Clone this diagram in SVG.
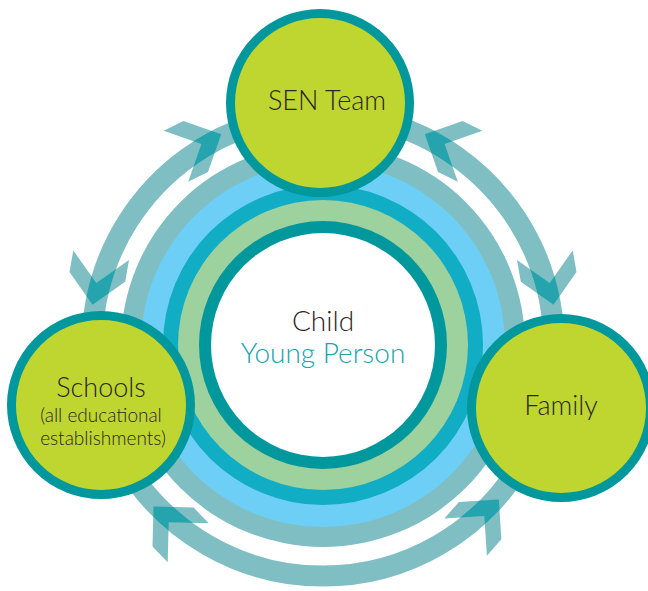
<svg xmlns="http://www.w3.org/2000/svg" xmlns:xlink="http://www.w3.org/1999/xlink" width="648" height="591" viewBox="0 0 648 591">
  <style>
    .node-fill { fill: #BED62F; stroke: #00979D; stroke-width: 9; }
    .label { font-family: Lato, "Open Sans", "Liberation Sans", sans-serif; font-weight: 300; fill: #2A2627; text-anchor: middle; }
    .band { fill: none; stroke: #7FBFC4; stroke-width: 21; }
    .chev { fill: #7FBFC4; }
    .chev-dark { fill: #25A4AE; }
  </style>
  <defs>
    <clipPath id="bandClip">
      <path clip-rule="evenodd" d="M 81.5 345 a 241.5 241.5 0 1 0 483 0 a 241.5 241.5 0 1 0 -483 0 Z M 102.5 345 a 220.5 220.5 0 1 0 441 0 a 220.5 220.5 0 1 0 -441 0 Z"/>
    </clipPath>
    <polygon id="chev1" points="92.5,304.8 125.2,281.8 129.0,260.1 96.3,283.1 73.3,250.4 69.5,272.1"/>
    <polygon id="chev2" points="221.2,134.3 183.4,121.1 163.6,130.7 201.4,143.9 188.2,181.7 208.0,172.1"/>
    <polygon id="chev3" points="424.8,134.3 462.6,121.1 482.4,130.7 444.6,143.9 457.8,181.7 438.0,172.1"/>
    <polygon id="chev4" points="553.5,304.8 520.8,281.8 517.0,260.1 549.7,283.1 572.7,250.4 576.5,272.1"/>
    <polygon id="chev5" points="153.5,506.4 152.5,546.4 167.7,562.3 168.7,522.3 208.7,523.3 193.5,507.4"/>
    <polygon id="chev6" points="498.8,499.4 458.9,502.0 444.4,518.5 484.3,515.9 486.9,555.8 501.4,539.3"/>
  </defs>

  <g id="child-rings">
    <circle cx="323" cy="345" r="202" fill="#7FBFC4"/>
    <circle cx="323" cy="345" r="182" fill="#6DCFF6"/>
    <circle cx="323" cy="345" r="160" fill="#10ADC5"/>
    <circle cx="323" cy="345" r="145" fill="#9DD19E"/>
    <circle cx="323" cy="345" r="124" fill="#00979D"/>
    <circle cx="323" cy="345" r="112" fill="#FFFFFF"/>
  </g>

  <g id="connectors">
    <path class="band" d="M 95.5 385.1 A 231 231 0 0 1 263.2 121.9"/>
    <path class="band" d="M 382.8 121.9 A 231 231 0 0 1 550.5 385.1"/>
    <path class="band" d="M 523.1 460.5 A 231 231 0 0 1 122.9 460.5"/>
    <g class="chev">
      <use xlink:href="#chev1"/>
      <use xlink:href="#chev2"/>
      <use xlink:href="#chev3"/>
      <use xlink:href="#chev4"/>
      <use xlink:href="#chev5"/>
      <use xlink:href="#chev6"/>
    </g>
    <g class="chev-dark" clip-path="url(#bandClip)">
      <use xlink:href="#chev1"/>
      <use xlink:href="#chev2"/>
      <use xlink:href="#chev3"/>
      <use xlink:href="#chev4"/>
      <use xlink:href="#chev5"/>
      <use xlink:href="#chev6"/>
    </g>
  </g>

  <g id="child">
    <text class="label" x="323" y="331" font-size="28">Child</text>
    <text class="label" x="323" y="363" font-size="28" style="fill:#1BA3AE">Young Person</text>
  </g>

  <g id="sen-team">
    <circle class="node-fill" cx="320" cy="103" r="89.5"/>
    <text class="label" x="327" y="110" font-size="27">SEN Team</text>
  </g>

  <g id="schools">
    <circle class="node-fill" cx="101" cy="405" r="89.5"/>
    <text class="label" x="101" y="397" font-size="27">Schools</text>
    <text class="label" x="101" y="422" font-size="19">(all educational</text>
    <text class="label" x="103" y="445" font-size="19">establishments)</text>
  </g>

  <g id="family">
    <circle class="node-fill" cx="561" cy="408" r="89.5"/>
    <text class="label" x="561" y="415" font-size="27">Family</text>
  </g>
</svg>
